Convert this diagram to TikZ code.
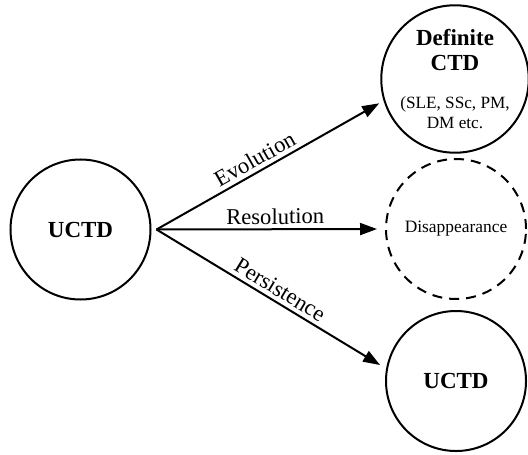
\documentclass[tikz,border=0pt]{standalone}
\usepackage{fontspec}
\setmainfont{Liberation Serif}
\usetikzlibrary{arrows.meta}
\begin{document}
\begin{tikzpicture}[x=0.5pt,y=-0.5pt]
            \tikzstyle{every node}+=[inner sep=0pt]
            \tikzstyle{state}=[draw=black, line width=1pt, circle, minimum size=70pt, align=center]
            \tikzstyle{vanish}=[state, dash pattern=on 5pt off 3.5pt]
            \tikzstyle{branch}=[draw=black, line width=1pt, -{Triangle[length=8.5pt,width=6pt]}]
            \tikzstyle{branchlabel}=[font=\fontsize{11.3}{13}\selectfont, sloped, above=2pt]
            \newcommand{\notesize}{\fontsize{8.6}{10}\selectfont}
            \useasboundingbox (0,0) rectangle (528,454);
            \node[state, font=\bfseries\fontsize{11.5}{13}\selectfont] (uctd) at (80.5,229.5) {UCTD};
            \node[state, font=\fontsize{11.5}{12.5}\selectfont] (defctd) at (455,79) {\textbf{Definite}\\\textbf{CTD}\\[6.5pt]\notesize (SLE, SSc, PM,\\[-2.5pt]\notesize DM etc.};
            \node[vanish, font=\fontsize{8.7}{10}\selectfont] (gone) at (456,229) {Disappearance};
            \node[state, font=\bfseries\fontsize{11.5}{13}\selectfont] (uctdb) at (456,381) {UCTD};
            \coordinate (fork) at ([xshift=2.5pt]uctd.east);
            \draw[branch, shorten >=2.5pt] (fork) -- node[branchlabel, pos=0.46] {Evolution} (defctd.197);
            \draw[branch, shorten >=4pt] (fork) -- node[branchlabel, pos=0.52] {Resolution} (gone.west);
            \draw[branch, shorten >=3.5pt] (fork) -- node[branchlabel, pos=0.51] {Persistence} (uctdb.170);
\end{tikzpicture}
\end{document}
